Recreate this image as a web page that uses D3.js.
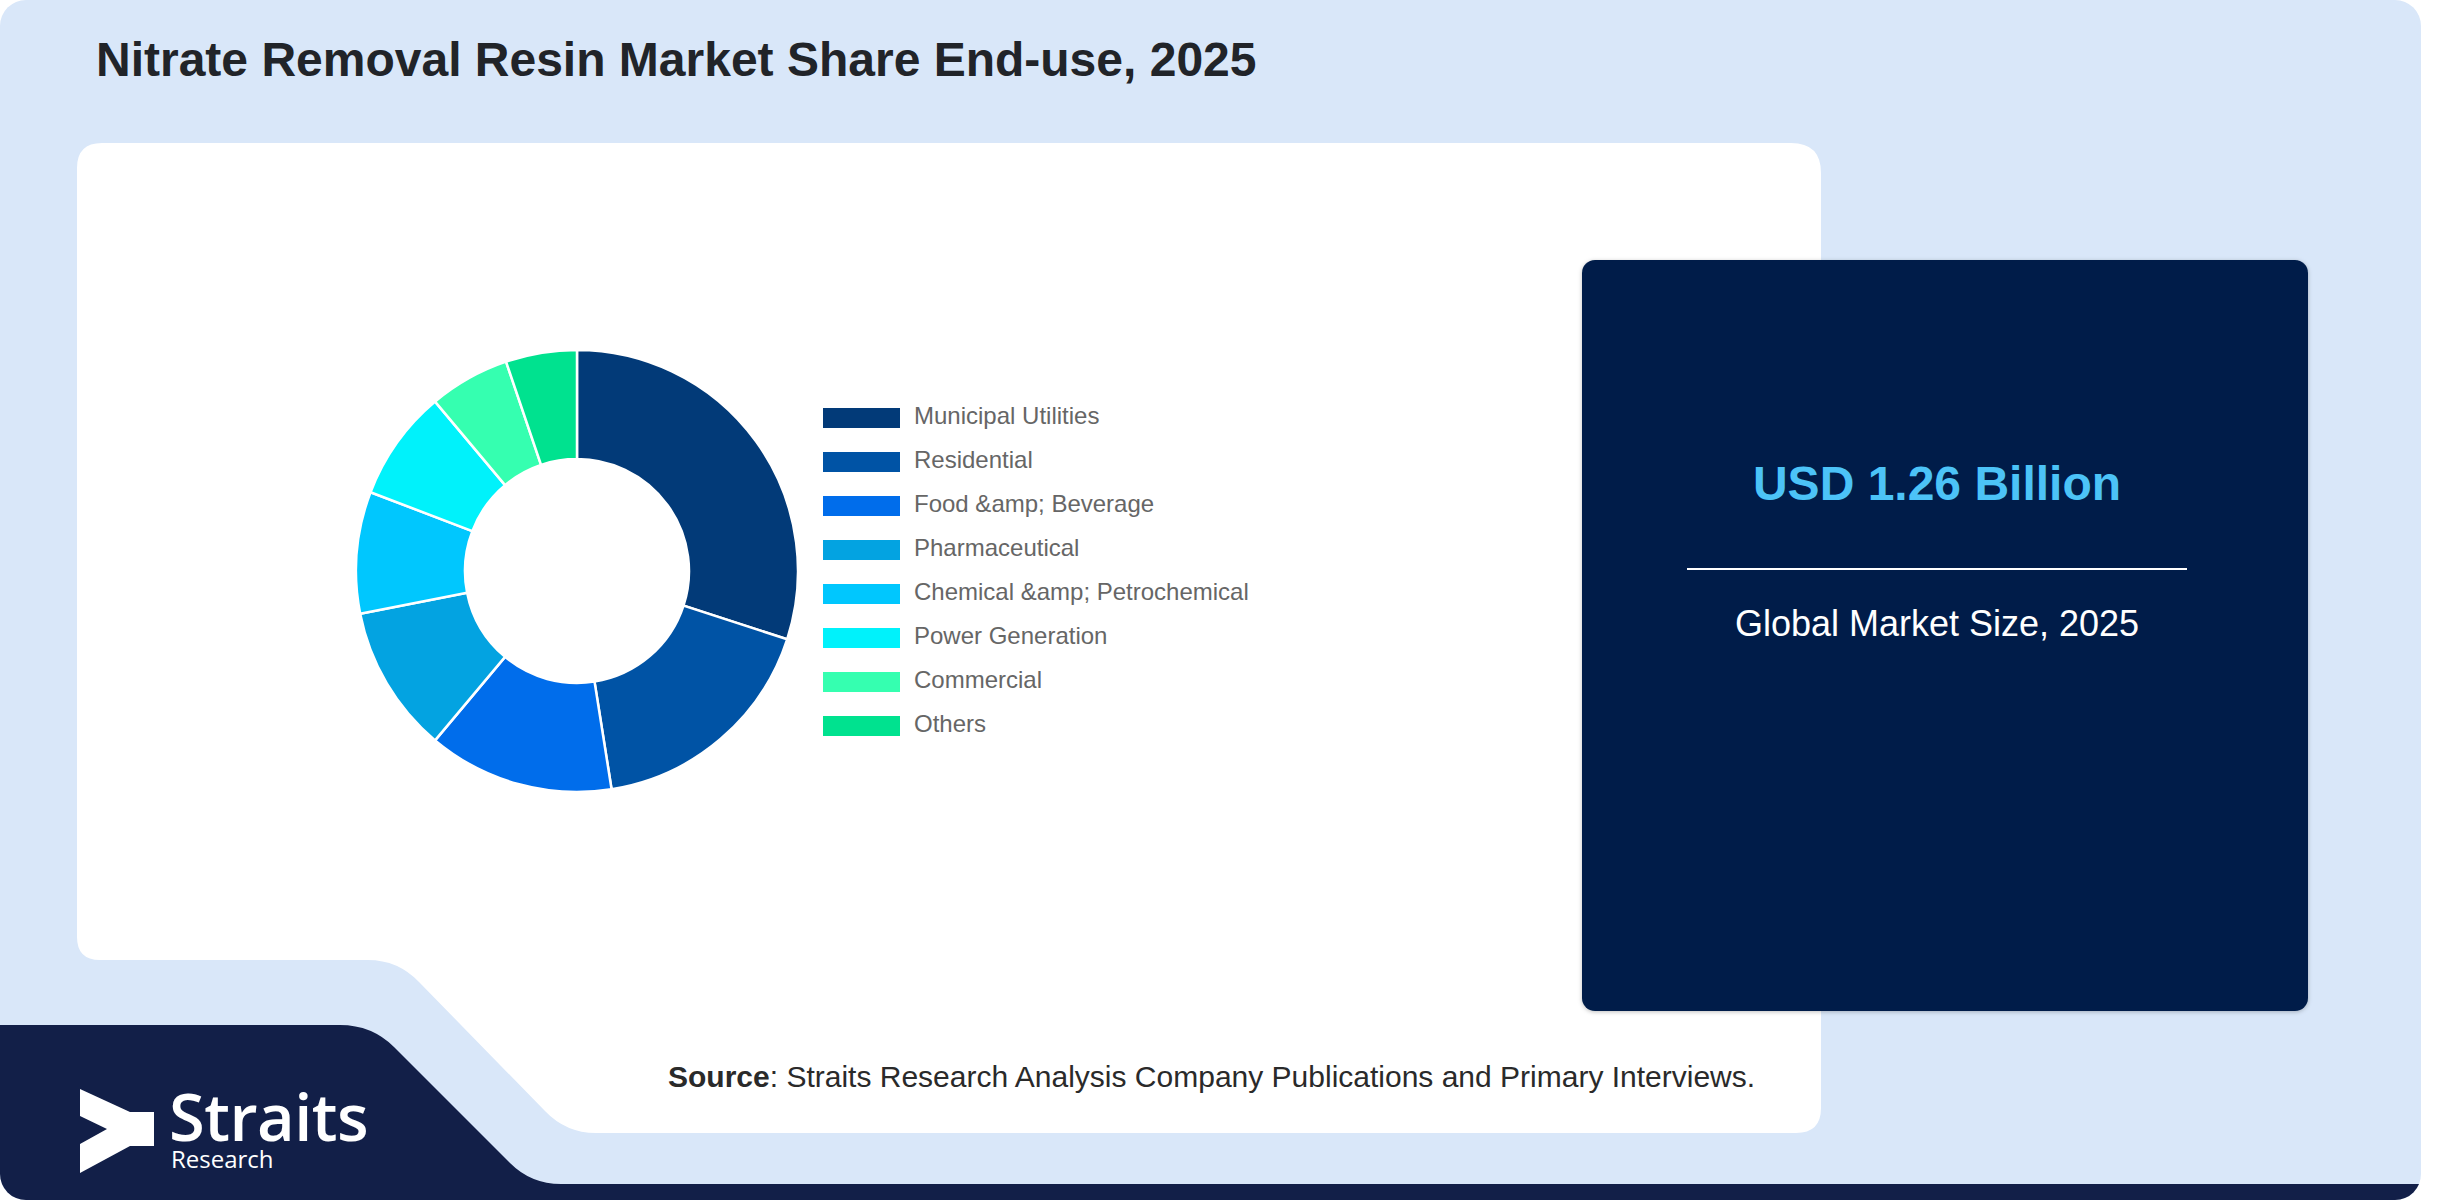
<!DOCTYPE html>
<html>
<head>
<meta charset="utf-8">
<script src="https://cdn.jsdelivr.net/npm/d3@7"></script>
<style>
  html, body { margin: 0; padding: 0; background: #ffffff; }
  svg { display: block; }
</style>
</head>
<body>
<svg id="chart" width="2452" height="1200"></svg>
<script>
// ---- data ----
const categories = [
  "Municipal Utilities",
  "Residential",
  "Food &amp; Beverage",
  "Pharmaceutical",
  "Chemical &amp; Petrochemical",
  "Power Generation",
  "Commercial",
  "Others"
];
const shares = [30.0, 17.5, 13.6, 10.8, 8.9, 8.1, 5.9, 5.2];
const colors = ["#023a78", "#0053a5", "#006deb", "#03a3e1", "#00c7fe", "#00f2fb", "#35ffb0", "#00e28f"];
const titleText = "Nitrate Removal Resin Market Share End-use, 2025";
const marketValue = "USD 1.26 Billion";
const marketLabel = "Global Market Size, 2025";
const sourceLabel = "Source";
const sourceText = ": Straits Research Analysis Company Publications and Primary Interviews.";

const svg = d3.select("#chart");
const defs = svg.append("defs");

// outer card clip
defs.append("clipPath").attr("id", "cardClip")
  .append("rect").attr("x", 0).attr("y", 0).attr("width", 2421).attr("height", 1200).attr("rx", 26);

const card = svg.append("g").attr("clip-path", "url(#cardClip)");
card.append("rect").attr("x", 0).attr("y", 0).attr("width", 2421).attr("height", 1200).attr("fill", "#d9e7f9");

// navy logo band + bottom strip
card.append("path")
  .attr("d", "M0,1025 H340 Q372,1025 394,1047 L510,1163 Q531,1184 561,1184 H2421 V1200 H0 Z")
  .attr("fill", "#121f48");

// white panel
card.append("path")
  .attr("d", "M102,143 H1791 Q1821,143 1821,173 V1108 Q1821,1133 1796,1133 H596 Q566,1133 545,1111 L419,982 Q398,960 368,960 H100 Q77,960 77,937 V168 Q77,143 102,143 Z")
  .attr("fill", "#ffffff");

// title
svg.append("text")
  .attr("x", 96).attr("y", 76)
  .attr("font-family", "'Liberation Sans', Arial, sans-serif")
  .attr("font-weight", "bold").attr("font-size", 48)
  .attr("fill", "#212429")
  .text(titleText);

// donut
const pie = d3.pie().sort(null).value(d => d.v);
const arcs = pie(categories.map((c, i) => ({ c, v: shares[i] })));
const arc = d3.arc().innerRadius(112).outerRadius(221);
const gDonut = svg.append("g").attr("transform", "translate(577,571)");
gDonut.selectAll("path").data(arcs).join("path")
  .attr("d", arc)
  .attr("fill", (d, i) => colors[i])
  .attr("stroke", "#ffffff").attr("stroke-width", 2.5);

// legend
const ly = d3.scalePoint().domain(categories).range([418, 726]);
const gLeg = svg.append("g");
const rows = gLeg.selectAll("g").data(categories).join("g")
  .attr("transform", d => `translate(0,${ly(d)})`);
rows.append("rect").attr("x", 823).attr("y", -10).attr("width", 77).attr("height", 20)
  .attr("fill", (d, i) => colors[i]);
rows.append("text").attr("x", 914).attr("y", 6)
  .attr("font-family", "'Liberation Sans', Arial, sans-serif")
  .attr("font-size", 24).attr("fill", "#666666")
  .text(d => d);

// info box
defs.append("filter").attr("id", "shadow").attr("x", "-5%").attr("y", "-5%").attr("width", "110%").attr("height", "110%")
  .append("feDropShadow").attr("dx", 0).attr("dy", 1).attr("stdDeviation", 2).attr("flood-color", "#000").attr("flood-opacity", 0.25);
svg.append("rect").attr("x", 1582).attr("y", 260).attr("width", 726).attr("height", 751).attr("rx", 13)
  .attr("fill", "#001f4a").attr("filter", "url(#shadow)");
svg.append("text").attr("x", 1937).attr("y", 500).attr("text-anchor", "middle")
  .attr("font-family", "'Liberation Sans', Arial, sans-serif")
  .attr("font-weight", "bold").attr("font-size", 48).attr("fill", "#4cc3f7")
  .text(marketValue);
svg.append("line").attr("x1", 1687).attr("x2", 2187).attr("y1", 569).attr("y2", 569)
  .attr("stroke", "#ffffff").attr("stroke-width", 2);
svg.append("text").attr("x", 1937).attr("y", 636).attr("text-anchor", "middle")
  .attr("font-family", "'Liberation Sans', Arial, sans-serif")
  .attr("font-size", 36).attr("fill", "#ffffff")
  .text(marketLabel);

// source
const src = svg.append("text").attr("x", 668).attr("y", 1087)
  .attr("font-family", "'Liberation Sans', Arial, sans-serif")
  .attr("font-size", 30).attr("fill", "#2a2a2a");
src.append("tspan").attr("font-weight", "bold").text(sourceLabel);
src.append("tspan").text(sourceText);

// logo
const logo = svg.append("g");
logo.append("path")
  .attr("d", "M80,1089 L130,1112 H154 V1146 H130 L80,1173 V1144 L107,1129 L80,1116 Z")
  .attr("fill", "#ffffff");
logo.append("text").attr("x", 169).attr("y", 1141)
  .attr("font-family", "'Open Sans', 'Noto Sans', sans-serif")
  .attr("font-weight", 600).attr("font-size", 65).attr("fill", "#ffffff")
  .attr("letter-spacing", -0.5)
  .text("Straits");
logo.append("text").attr("x", 171).attr("y", 1168)
  .attr("font-family", "'Open Sans', 'Noto Sans', sans-serif")
  .attr("font-size", 24).attr("fill", "#ffffff")
  .text("Research");
</script>
</body>
</html>
